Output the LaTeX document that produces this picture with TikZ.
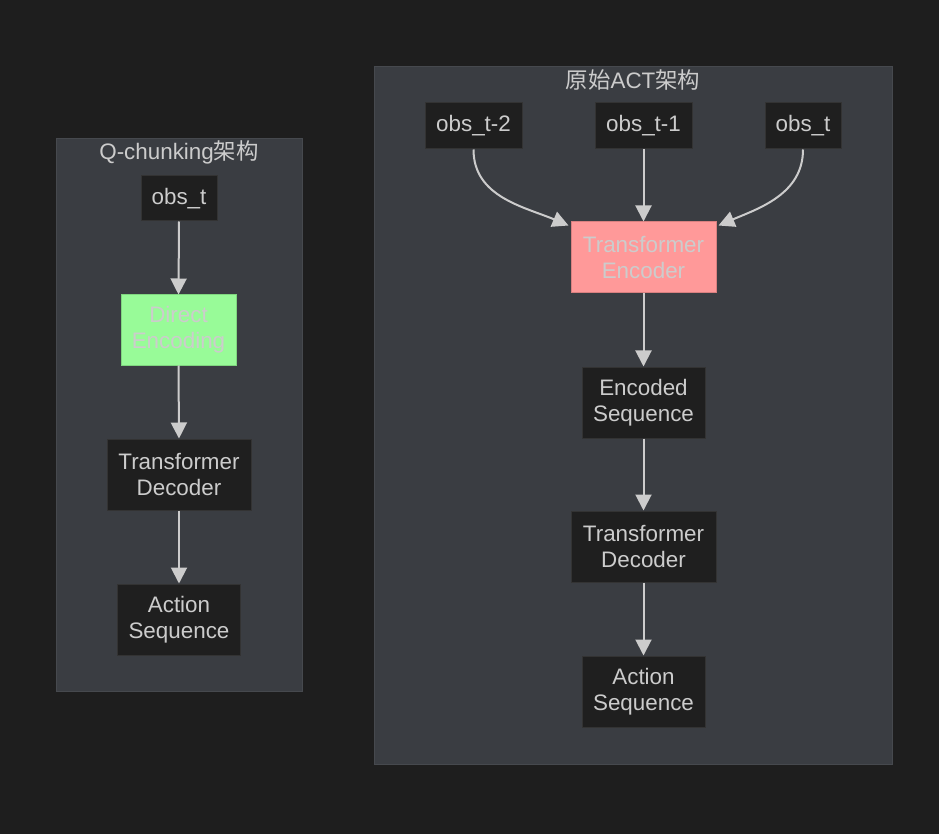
\documentclass[tikz,border=0pt]{standalone}
\usepackage{fontspec}
\setmainfont{Liberation Sans}
\newfontfamily\cjk{Noto Sans CJK SC}
\usetikzlibrary{arrows.meta}
\definecolor{bgc}{HTML}{1E1E1E}
\definecolor{clfill}{HTML}{3A3D42}
\definecolor{clline}{HTML}{46494E}
\definecolor{nfill}{HTML}{1F1F1F}
\definecolor{nline}{HTML}{333333}
\definecolor{txt}{HTML}{CCCCCC}
\definecolor{greenf}{HTML}{98FB98}
\definecolor{greenl}{HTML}{7FD67F}
\definecolor{pinkf}{HTML}{FF9999}
\definecolor{pinkl}{HTML}{D98080}
\tikzset{
  box/.style={draw=nline, fill=nfill, line width=0.75pt, text=txt, inner sep=0pt, align=center,
    font=\fontsize{16.8pt}{19.5pt}\selectfont},
  cluster/.style={draw=clline, fill=clfill, line width=0.75pt},
  ctitle/.style={text=txt, inner sep=0pt, font=\fontsize{16.8pt}{19.5pt}\selectfont},
  arr/.style={draw=txt, line width=1.5pt, -{Triangle[length=12pt,width=12pt]}},
}
\begin{document}
\begin{tikzpicture}[x=0.75pt,y=-0.75pt]
\fill[bgc] (0,0) rectangle (939,834);
\useasboundingbox (0,0) rectangle (939,834);
% clusters
\draw[cluster] (56,139) rectangle (302,691);
\node[ctitle] (tq) at (179,152) {Q-chunking{\cjk 架构}};
\draw[cluster] (374,67) rectangle (892,764);
\node[ctitle] (ta) at (633,80) {{\cjk 原始}ACT{\cjk 架构}};
% left nodes
\node[box, minimum width=57pt, minimum height=33.75pt] (qobs) at (179,198.5) {obs\_t};
\node[box, fill=greenf, draw=greenl, minimum width=86.25pt, minimum height=52.5pt] (qdir) at (178.5,330) {Direct\\Encoding};
\node[box, minimum width=108pt, minimum height=53.25pt] (qdec) at (179,474.5) {Transformer\\Decoder};
\node[box, minimum width=92.25pt, minimum height=53.25pt] (qact) at (179,619.5) {Action\\Sequence};
% right nodes
\node[box, minimum width=72.75pt, minimum height=34.5pt] (o2) at (473.5,126) {obs\_t-2};
\node[box, minimum width=72.75pt, minimum height=34.5pt] (o1) at (643.5,126) {obs\_t-1};
\node[box, minimum width=57pt, minimum height=34.5pt] (o0) at (803,126) {obs\_t};
\node[box, fill=pinkf, draw=pinkl, minimum width=108.75pt, minimum height=53.25pt] (enc) at (643.5,257.5) {Transformer\\Encoder};
\node[box, minimum width=92.25pt, minimum height=53.25pt] (eseq) at (643.5,402.5) {Encoded\\Sequence};
\node[box, minimum width=108.75pt, minimum height=53.25pt] (adec) at (643.5,546.5) {Transformer\\Decoder};
\node[box, minimum width=92.25pt, minimum height=53.25pt] (aact) at (643.5,691.5) {Action\\Sequence};
% left edges
\draw[arr] (qobs.south) -- (qdir.north);
\draw[arr] (qdir.south) -- (qdec.north);
\draw[arr] (qdec.south) -- (qact.north);
% right edges
\draw[arr] (o2.south) to[out=-90,in=157] ([xshift=-1.5pt,yshift=-3pt]enc.north west);
\draw[arr] (o1.south) -- (enc.north);
\draw[arr] (o0.south) to[out=-90,in=23] ([xshift=1.5pt,yshift=-3pt]enc.north east);
\draw[arr] (enc.south) -- (eseq.north);
\draw[arr] (eseq.south) -- (adec.north);
\draw[arr] (adec.south) -- (aact.north);
\end{tikzpicture}
\end{document}
